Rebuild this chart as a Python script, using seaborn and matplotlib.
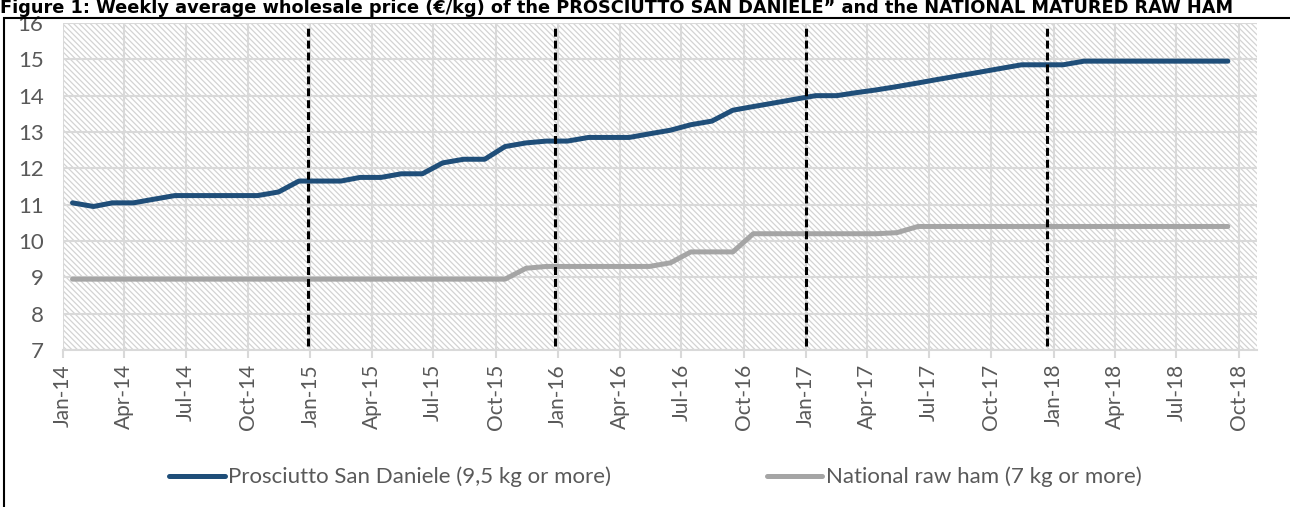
import numpy as np
import pandas as pd
import matplotlib
matplotlib.use("Agg")
import matplotlib.pyplot as plt
import matplotlib.dates as mdates
from matplotlib.patches import Rectangle
from matplotlib.lines import Line2D
import seaborn as sns

# ---------------- data ----------------
months = pd.date_range("2014-01-01", periods=57, freq="MS") + pd.Timedelta(days=14)

san_daniele = [
    11.05, 10.95, 11.05, 11.05, 11.15, 11.25, 11.25, 11.25, 11.25, 11.25, 11.35, 11.65,  # 2014
    11.65, 11.65, 11.75, 11.75, 11.85, 11.85, 12.15, 12.25, 12.25, 12.60, 12.70, 12.75,  # 2015
    12.75, 12.85, 12.85, 12.85, 12.95, 13.05, 13.20, 13.30, 13.60, 13.70, 13.80, 13.90,  # 2016
    14.00, 14.00, 14.08, 14.16, 14.25, 14.35, 14.45, 14.55, 14.65, 14.75, 14.85, 14.85,  # 2017
    14.85, 14.95, 14.95, 14.95, 14.95, 14.95, 14.95, 14.95, 14.95,                      # 2018
]
national = [
    8.95, 8.95, 8.95, 8.95, 8.95, 8.95, 8.95, 8.95, 8.95, 8.95, 8.95, 8.95,               # 2014
    8.95, 8.95, 8.95, 8.95, 8.95, 8.95, 8.95, 8.95, 8.95, 8.95, 9.25, 9.30,               # 2015
    9.30, 9.30, 9.30, 9.30, 9.30, 9.40, 9.70, 9.70, 9.70, 10.20, 10.20, 10.20,            # 2016
    10.20, 10.20, 10.20, 10.20, 10.23, 10.40, 10.40, 10.40, 10.40, 10.40, 10.40, 10.40,   # 2017
    10.40, 10.40, 10.40, 10.40, 10.40, 10.40, 10.40, 10.40, 10.40,                        # 2018
]
series_names = ["Prosciutto San Daniele (9,5 kg or more)", "National raw ham (7 kg or more)"]
series_colors = ["#1F4E79", "#A5A5A5"]
year_breaks = ["2014-12-29", "2015-12-28", "2017-01-01", "2017-12-22"]
y_ticks = list(range(7, 17))
title = ("Figure 1: Weekly average wholesale price (€/kg) of the PROSCIUTTO SAN DANIELE\u201d "
         "and the NATIONAL MATURED RAW HAM")

df = pd.concat([
    pd.DataFrame({"date": months, "price": san_daniele, "series": series_names[0]}),
    pd.DataFrame({"date": months, "price": national, "series": series_names[1]}),
])

# ---------------- style ----------------
sns.set_theme(style="white")
plt.rcParams["font.family"] = ["Lato", "DejaVu Sans"]
plt.rcParams["hatch.linewidth"] = 0.9
TXT = "#595959"
GRID = "#d9d9d9"

W, H = 1290, 507
fig = plt.figure(figsize=(W / 100, H / 100), dpi=100)
ax = fig.add_axes([63 / W, 1 - 350 / H, (1257 - 63) / W, (350 - 23) / H])

# hatched plot area background
ax.add_patch(Rectangle((0, 0), 1, 1, transform=ax.transAxes, facecolor="white",
                       edgecolor="#d3d3d3", hatch="\\" * 6, linewidth=0, zorder=0))

sns.lineplot(data=df, x="date", y="price", hue="series", palette=series_colors,
             linewidth=3.6, ax=ax, legend=False, zorder=3)

for d in year_breaks:
    ax.vlines(pd.Timestamp(d), 7.1, 15.9, colors="black", linewidth=2.2,
              linestyles=(0, (2.6, 1.3)), zorder=4)

ax.set_xlim(pd.Timestamp("2014-01-01"), pd.Timestamp("2018-10-28"))
ax.set_ylim(7, 16)
ax.set_yticks(y_ticks)
ax.xaxis.set_major_locator(mdates.MonthLocator(bymonth=[1, 4, 7, 10]))
ax.xaxis.set_major_formatter(mdates.DateFormatter("%b-%y"))
ax.grid(True, color=GRID, linewidth=1.5, zorder=1)
ax.set_axisbelow(True)
ax.set_xlabel("")
ax.set_ylabel("")
for s in ["top", "right", "left"]:
    ax.spines[s].set_visible(False)
ax.spines["bottom"].set_color(GRID)
ax.spines["bottom"].set_linewidth(1.5)
ax.tick_params(axis="x", bottom=True, length=6, width=1.5, color=GRID,
               labelsize=15, labelcolor=TXT, rotation=90, pad=4)
ax.tick_params(axis="y", left=False, labelsize=16, labelcolor=TXT, pad=8)

# legend
handles = [Line2D([], [], color=c, linewidth=3.6) for c in series_colors]
fig.legend(handles, series_names, loc="center", bbox_to_anchor=(0.508, 1 - 477 / H),
           ncol=2, frameon=False, fontsize=16, labelcolor=TXT, handlelength=2.5,
           handletextpad=0.15, columnspacing=7.0)

# outer frame (partially cut by the image edge)
fig.add_artist(Rectangle((4 / W, -0.1), 1.2, 1 - 18 / H + 0.1, transform=fig.transFigure,
                         fill=False, edgecolor="black", linewidth=1.5))

# title at the very top
fig.text(0.0, 1 - 13 / H, title, fontsize=12.8, fontweight="bold", color="black",
         ha="left", va="baseline", family=["DejaVu Sans"])

fig.savefig("out.png", dpi=100)
